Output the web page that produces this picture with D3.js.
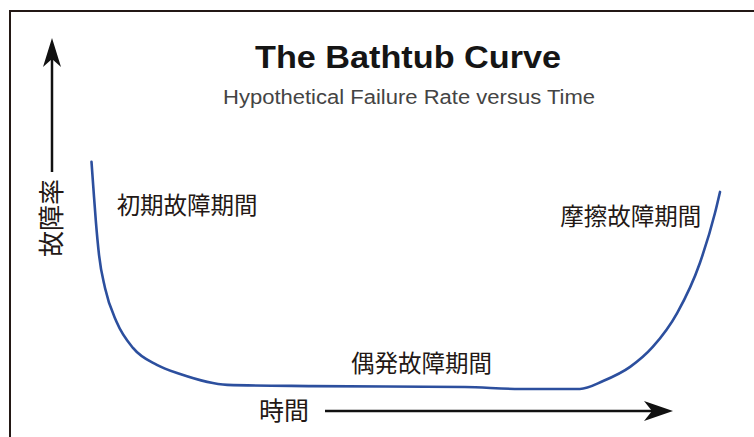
<!DOCTYPE html>
<html><head><meta charset="utf-8">
<script src="https://cdn.jsdelivr.net/npm/d3@7"></script>
<style>html,body{margin:0;padding:0;background:#fff;}svg{display:block;}</style>
</head><body>
<svg id="c" width="754" height="437"></svg>
<script>
// Data (time in arbitrary units 0-100, failure rate in arbitrary units)
const time = [0, 0.3, 0.7, 1.2, 2.15, 4.0, 6.6, 10.4, 14.1, 21.6, 35.2, 59.4, 68.2, 77.7, 81.4, 85.7, 89.3, 93.2, 96.8, 99.2, 100];
const failureRate = [9.92, 8.83, 7.42, 6.04, 4.67, 3.25, 2.17, 1.46, 1.08, 0.63, 0.58, 0.54, 0.46, 0.46, 0.79, 1.38, 2.21, 3.63, 5.71, 7.79, 8.67];
const title = "The Bathtub Curve";
const subtitle = "Hypothetical Failure Rate versus Time";
const yLabel = "故障率";
const xLabel = "時間";
const phases = ["初期故障期間", "偶発故障期間", "摩擦故障期間"];
const phaseTime = [4.0, 52.5, 97.0];
const phaseRate = [7.73, 1.15, 7.29];

const svg = d3.select("#c");
const x = d3.scaleLinear().domain([0, 100]).range([91.5, 720]);
const y = d3.scaleLinear().domain([0, 10]).range([400, 160]);
const ink = "#231815";

// frame
svg.append("line").attr("x1", 9).attr("x2", 754).attr("y1", 11).attr("y2", 11)
  .attr("stroke", ink).attr("stroke-width", 2);
svg.append("line").attr("x1", 10).attr("x2", 10).attr("y1", 10).attr("y2", 437)
  .attr("stroke", ink).attr("stroke-width", 2);

// title
svg.append("text").attr("x", 408).attr("y", 68).attr("text-anchor", "middle")
  .attr("font-family", "Liberation Sans, Arial, sans-serif").attr("font-weight", "bold")
  .attr("font-size", 32).attr("fill", "#151515")
  .attr("textLength", 306).attr("lengthAdjust", "spacingAndGlyphs").text(title);
svg.append("text").attr("x", 409).attr("y", 104).attr("text-anchor", "middle")
  .attr("font-family", "Liberation Sans, Arial, sans-serif")
  .attr("font-size", 19.5).attr("fill", "#444")
  .attr("textLength", 372).attr("lengthAdjust", "spacingAndGlyphs").text(subtitle);

// y arrow
svg.append("line").attr("x1", 52).attr("x2", 52).attr("y1", 172).attr("y2", 55)
  .attr("stroke", "#111").attr("stroke-width", 2.5);
svg.append("path").attr("d", "M52,38 L61,67 L52,59 L43,67 Z").attr("fill", "#111");
// x arrow
svg.append("line").attr("x1", 325).attr("x2", 660).attr("y1", 411).attr("y2", 411)
  .attr("stroke", "#111").attr("stroke-width", 2.5);
svg.append("path").attr("d", "M673,411 L644,401 L652,411 L644,421 Z").attr("fill", "#111");

const jp = "Noto Sans CJK JP, sans-serif";
svg.append("text").attr("transform", "translate(61,218) rotate(-90)")
  .attr("text-anchor", "middle").attr("font-family", jp).attr("font-size", 26)
  .attr("fill", ink).text(yLabel);
svg.append("text").attr("x", 284).attr("y", 420).attr("text-anchor", "middle")
  .attr("font-family", jp).attr("font-size", 25).attr("fill", ink).text(xLabel);

svg.selectAll("text.phase").data(phases).enter().append("text").attr("class", "phase")
  .attr("x", (d, i) => x(phaseTime[i]))
  .attr("y", (d, i) => y(phaseRate[i]))
  .attr("text-anchor", (d, i) => i === 0 ? "start" : (i === 1 ? "middle" : "end"))
  .attr("font-family", jp).attr("font-size", 23.5).attr("fill", ink).text(d => d);

// curve
const pts = time.map((t, i) => [t, failureRate[i]]);
const line = d3.line().x(d => x(d[0])).y(d => y(d[1])).curve(d3.curveMonotoneX);
svg.append("path").datum(pts).attr("d", line).attr("fill", "none")
  .attr("stroke", "#2c4f9e").attr("stroke-width", 2.6).attr("stroke-linecap", "round");
</script>
</body></html>
